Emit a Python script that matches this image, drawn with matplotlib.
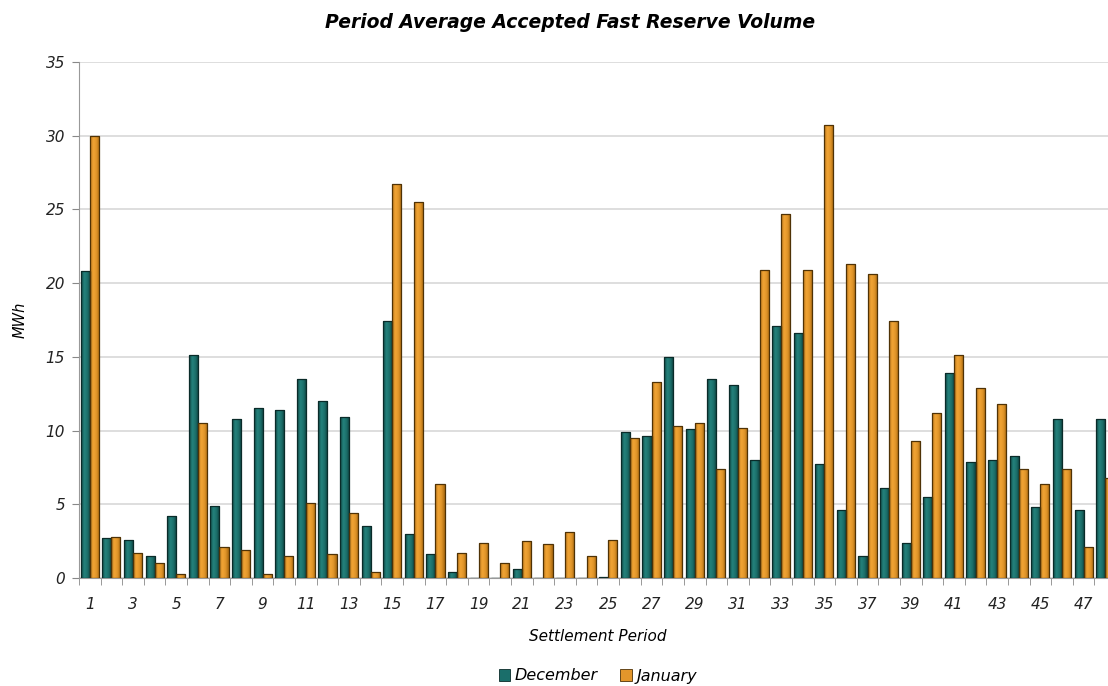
import numpy as np
import matplotlib
matplotlib.use("Agg")
import matplotlib.pyplot as plt
from matplotlib.patches import Patch
from matplotlib.colors import LinearSegmentedColormap

plt.rcParams['font.family'] = ['DejaVu Sans']

# データ (読み取り値)
periods = list(range(1, 49))
december = [20.8, 2.7, 2.6, 1.5, 4.2, 15.1, 4.9, 10.8, 11.5, 11.4,
            13.5, 12.0, 10.9, 3.5, 17.4, 3.0, 1.6, 0.4, 0.0, 0.0,
            0.6, 0.0, 0.0, 0.0, 0.1, 9.9, 9.6, 15.0, 10.1, 13.5,
            13.1, 8.0, 17.1, 16.6, 7.7, 4.6, 1.5, 6.1, 2.4, 5.5,
            13.9, 7.9, 8.0, 8.3, 4.8, 10.8, 4.6, 10.8]
january = [30.0, 2.8, 1.7, 1.0, 0.3, 10.5, 2.1, 1.9, 0.3, 1.5,
           5.1, 1.6, 4.4, 0.4, 26.7, 25.5, 6.4, 1.7, 2.4, 1.0,
           2.5, 2.3, 3.1, 1.5, 2.6, 9.5, 13.3, 10.3, 10.5, 7.4,
           10.2, 20.9, 24.7, 20.9, 30.7, 21.3, 20.6, 17.4, 9.3, 11.2,
           15.1, 12.9, 11.8, 7.4, 6.4, 7.4, 2.1, 6.8]
series_names = ['December', 'January']
dec_color = '#1a6e6a'
jan_color = '#e3962b'


def shade_bars(ax, bars, cmap):
    # 棒の横方向グラデーション (元図の立体感を近似)
    grad = np.linspace(0, 1, 64).reshape(1, -1)
    for rect in bars:
        x0, y0 = rect.get_x(), rect.get_y()
        w, h = rect.get_width(), rect.get_height()
        if h <= 0:
            continue
        im = ax.imshow(grad, extent=[x0, x0 + w, y0, y0 + h], aspect='auto',
                       cmap=cmap, zorder=3.2, interpolation='bicubic')
        im.set_clip_path(rect)


def main():
    fig = plt.figure(figsize=(11.08, 6.86), dpi=100)
    # 右端は画像の外にはみ出す (元図と同じく48番目が切れる)
    ax = fig.add_axes([79 / 1108, 108 / 686, 1037 / 1108, 516 / 686])

    x = np.arange(len(periods))
    w = 0.42
    dec_bars = ax.bar(x - w / 2, december, width=w, color=dec_color,
                      edgecolor='none', zorder=3)
    jan_bars = ax.bar(x + w / 2, january, width=w, color=jan_color,
                      edgecolor='none', zorder=3)

    dec_cmap = LinearSegmentedColormap.from_list('dec', ['#0f4744', '#24837d', '#1c6f6a', '#0d3e3b'])
    jan_cmap = LinearSegmentedColormap.from_list('jan', ['#b9761c', '#f2a535', '#e0952a', '#a8680f'])
    shade_bars(ax, dec_bars, dec_cmap)
    shade_bars(ax, jan_bars, jan_cmap)

    # 枠線
    ax.bar(x - w / 2, december, width=w, facecolor='none',
           edgecolor='#0a2b29', linewidth=0.9, zorder=3.4)
    ax.bar(x + w / 2, january, width=w, facecolor='none',
           edgecolor='#4f3206', linewidth=0.9, zorder=3.4)

    ax.set_xlim(-0.5, len(periods) - 0.5)
    ax.set_ylim(0, 35)
    ax.set_yticks(np.arange(0, 36, 5))
    ax.yaxis.grid(True, color='#d8d8d8', linewidth=1.2, zorder=0)

    # カテゴリ境界に目盛り、奇数番号のみラベル
    ax.set_xticks(x[::2])
    ax.set_xticklabels([str(p) for p in periods[::2]])
    ax.set_xticks(np.arange(-0.5, len(periods), 1), minor=True)
    ax.tick_params(axis='x', which='major', length=0, pad=14)
    ax.tick_params(axis='x', which='minor', length=5, color='#888888', direction='out')
    ax.tick_params(axis='y', length=5, color='#888888', pad=5)

    for lab in ax.get_xticklabels() + ax.get_yticklabels():
        lab.set_fontstyle('italic')
        lab.set_fontsize(11)
        lab.set_color('#222222')

    for s in ['top', 'right']:
        ax.spines[s].set_visible(False)
    ax.spines['left'].set_color('#999999')
    ax.spines['bottom'].set_color('#999999')

    ax.set_ylabel('MWh', fontstyle='italic', fontsize=10.5, labelpad=13)
    ax.set_xlabel('Settlement Period', fontstyle='italic', fontsize=11, labelpad=12)
    fig.text(570 / 1108, 1 - 22 / 686, 'Period Average Accepted Fast Reserve Volume',
             ha='center', va='center', fontsize=13.5, fontweight='bold', fontstyle='italic')

    handles = [Patch(facecolor=dec_color, edgecolor='#0a2b29', linewidth=0.6),
               Patch(facecolor=jan_color, edgecolor='#4f3206', linewidth=0.6)]
    fig.legend(handles, series_names, loc='center', bbox_to_anchor=(598 / 1108, 1 - 676 / 686),
               ncol=2, frameon=False, handlelength=0.7, handleheight=0.7,
               handletextpad=0.3, columnspacing=1.4,
               prop={'style': 'italic', 'size': 11.5})

    fig.savefig('out.png', dpi=100)


if __name__ == "__main__":
    main()
